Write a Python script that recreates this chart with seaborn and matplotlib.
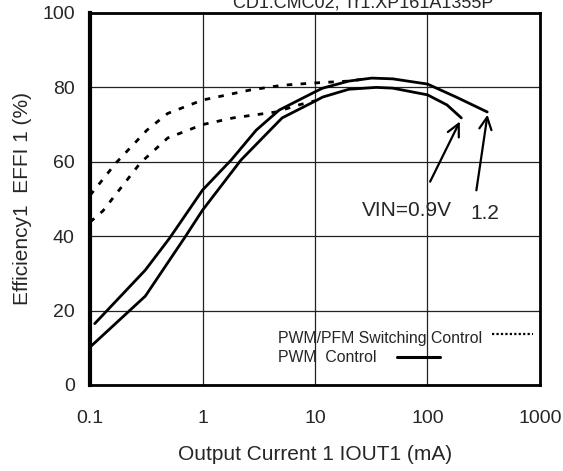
import matplotlib
matplotlib.use("Agg")
import matplotlib.pyplot as plt
import pandas as pd
import seaborn as sns
from matplotlib.lines import Line2D
from matplotlib.ticker import FixedLocator, LogLocator, NullFormatter

# PWM control, VIN = 1.2 V
pwm12_x = [0.11, 0.31, 0.51, 1.0, 1.8, 3.0, 4.8, 10, 11.7, 20, 32, 49, 100, 180, 340]
pwm12_y = [16.5, 30.9, 39.5, 52.4, 60.5, 68.5, 73.9, 78.8, 79.8, 81.7, 82.5, 82.3, 80.9, 77.4, 73.4]
# PWM control, VIN = 0.9 V
pwm09_x = [0.1, 0.31, 0.70, 1.0, 2.2, 5.1, 10, 11.7, 20, 35, 49, 100, 149, 200]
pwm09_y = [10.2, 23.9, 39.8, 47.0, 60.5, 71.8, 76.3, 77.4, 79.5, 80.0, 79.8, 78.0, 75.3, 71.8]
# PWM/PFM switching, VIN = 1.2 V
pfm12_x = [0.1, 0.17, 0.32, 0.49, 1.0, 2.65, 5.2, 10, 20, 30]
pfm12_y = [51.0, 59.7, 68.5, 73.0, 76.6, 79.3, 80.6, 81.2, 81.7, 82.4]
# PWM/PFM switching, VIN = 0.9 V
pfm09_x = [0.1, 0.13, 0.16, 0.28, 0.49, 1.0, 1.87, 4.5, 7, 10]
pfm09_y = [43.8, 46.8, 50.3, 59.7, 66.4, 70.0, 71.8, 73.4, 75.2, 76.4]

x_ticks = [0.1, 1, 10, 100, 1000]
x_labels = ["0.1", "1", "10", "100", "1000"]
y_ticks = [0, 20, 40, 60, 80, 100]

sns.set_style("white")
plt.rcParams["font.family"] = ["Liberation Sans", "DejaVu Sans"]

fig = plt.figure(figsize=(5.63, 4.71), dpi=100)
ax = fig.add_axes([0.16, 0.1826, 0.799, 0.7898])

curves = [
    (pwm12_x, pwm12_y, "-"),
    (pwm09_x, pwm09_y, "-"),
    (pfm12_x, pfm12_y, (0, (2, 3))),
    (pfm09_x, pfm09_y, (0, (2, 3))),
]
for xs, ys, ls in curves:
    d = pd.DataFrame({"x": xs, "y": ys})
    sns.lineplot(data=d, x="x", y="y", sort=False, estimator=None,
                 color="black", lw=2.0, linestyle=ls, ax=ax)

ax.set_xscale("log")
ax.set_xlim(0.1, 1000)
ax.set_ylim(0, 100)
ax.xaxis.set_major_locator(FixedLocator(x_ticks))
ax.set_xticks(x_ticks, x_labels)
ax.xaxis.set_minor_locator(LogLocator(base=10, subs=range(2, 10)))
ax.xaxis.set_minor_formatter(NullFormatter())
ax.set_yticks(y_ticks)
ax.tick_params(axis="both", which="major", direction="in", labelsize=14,
               length=5, width=1.2, color="black")
ax.tick_params(axis="y", which="major", pad=11)
ax.tick_params(axis="x", which="minor", direction="in", length=4, width=1.2,
               color="black")
ax.tick_params(axis="x", which="major", pad=18)
ax.grid(True, which="major", color="#222222", lw=0.9)

for side, sp in ax.spines.items():
    sp.set_color("black")
    sp.set_linewidth(2.0)
ax.spines["left"].set_linewidth(3.0)

ax.set_xlabel("Output Current 1 IOUT1 (mA)", fontsize=15, labelpad=13)
ax.set_ylabel("Efficiency1  EFFI 1 (%)", fontsize=15, labelpad=7)

# VIN annotations
ax.annotate("", xy=(199, 71.5), xytext=(103, 54),
            arrowprops=dict(arrowstyle="->", lw=1.6, mutation_scale=22, color="black"))
ax.annotate("", xy=(345, 73.4), xytext=(270, 51.6),
            arrowprops=dict(arrowstyle="->", lw=1.6, mutation_scale=22, color="black"))
ax.text(26, 47, "VIN=0.9V", fontsize=15, ha="left", va="center")
ax.text(239, 46, "1.2", fontsize=15, ha="left", va="center")

# hand-made legend
ax.text(0.418, 0.126, "PWM/PFM Switching Control", transform=ax.transAxes,
        fontsize=11.4, ha="left", va="center")
ax.text(0.418, 0.073, "PWM  Control", transform=ax.transAxes,
        fontsize=11.4, ha="left", va="center")
ax.add_line(Line2D([0.893, 0.984], [0.137, 0.137], transform=ax.transAxes,
                   color="black", lw=1.6, linestyle=(0, (1, 1))))
ax.add_line(Line2D([0.682, 0.778], [0.075, 0.075], transform=ax.transAxes,
                   color="black", lw=2.2))

# title, clipped at the top as in the source
fig.text(0.645, 0.985, "CD1:CMC02, Tr1:XP161A1355P", fontsize=13,
         ha="center", va="baseline")

fig.savefig("out.png", dpi=100)
